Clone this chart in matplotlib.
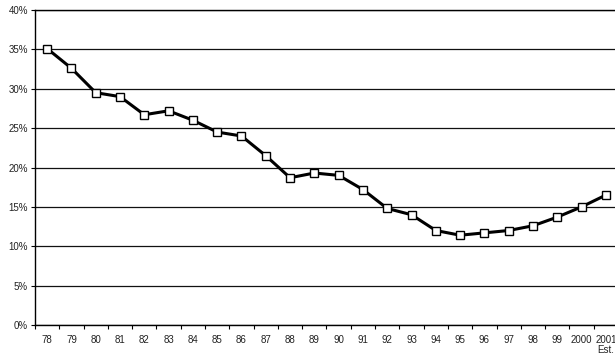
import numpy as np
import matplotlib.pyplot as plt
from matplotlib.ticker import FixedLocator, FuncFormatter

plt.rcParams['font.family'] = ['Liberation Sans', 'DejaVu Sans']

years = ['78', '79', '80', '81', '82', '83', '84', '85', '86', '87', '88', '89',
         '90', '91', '92', '93', '94', '95', '96', '97', '98', '99', '2000', '2001\nEst.']
rate = [35.1, 32.6, 29.5, 29.0, 26.7, 27.2, 26.0, 24.5, 24.0, 21.5, 18.7, 19.3,
        19.0, 17.2, 14.8, 14.0, 12.0, 11.4, 11.7, 12.0, 12.6, 13.7, 15.0, 16.5]
y_ticks = [0, 5, 10, 15, 20, 25, 30, 35, 40]

fig = plt.figure(figsize=(6.15, 3.56), dpi=100)
ax = fig.add_axes([35 / 615, 31 / 356, 583 / 615, 315 / 356])

x = np.arange(len(years))
ax.plot(x, rate, color='black', linewidth=2.2, marker='s', markersize=6.3,
        markerfacecolor='white', markeredgecolor='black', markeredgewidth=1.0,
        zorder=3)

ax.set_xlim(-0.5, len(years) - 0.5)
ax.set_ylim(0, 40)

# gridlines every 5%
ax.set_yticks(y_ticks)
ax.yaxis.set_major_formatter(FuncFormatter(lambda v, p: f'{int(v)}%'))
ax.grid(axis='y', color='#111111', linewidth=0.9)
ax.set_axisbelow(True)

# x ticks between categories, labels centred on categories
ax.xaxis.set_major_locator(FixedLocator(np.arange(len(years) + 1) - 0.5))
ax.xaxis.set_major_formatter(FuncFormatter(lambda v, p: ''))
ax.set_xticks(x, minor=True)
ax.set_xticklabels(years, minor=True, linespacing=1.0)
ax.tick_params(axis='x', which='minor', length=0, pad=7, labelsize=7, labelcolor='#222222')
ax.tick_params(axis='x', which='major', length=3, width=0.8, direction='out')
ax.tick_params(axis='y', length=3, width=0.8, direction='out', pad=2,
               labelsize=7, labelcolor='#222222')
for lbl in ax.get_xticklabels(minor=True):
    lbl.set_verticalalignment('top')

for side in ['left', 'bottom', 'top']:
    ax.spines[side].set_linewidth(1.0)
    ax.spines[side].set_color('black')
ax.spines['right'].set_visible(False)

fig.savefig('out.png', dpi=100)
